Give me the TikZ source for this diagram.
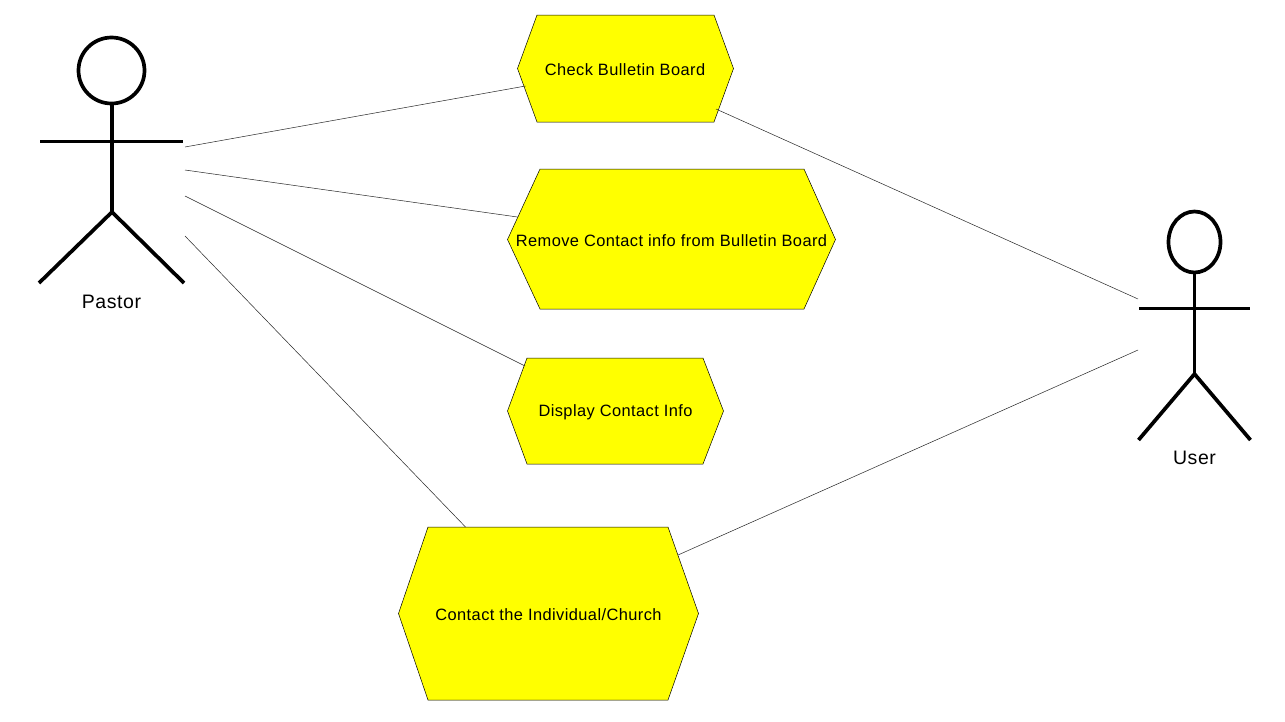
\documentclass[tikz,border=0pt]{standalone}
\usepackage{fontspec}
\setmainfont{Liberation Sans}
\newfontfamily\uclabel[LetterSpace=2.6]{Liberation Sans}
\newfontfamily\actlabel[LetterSpace=3]{Liberation Sans}
\definecolor{ucyellow}{RGB}{255,255,0}
\begin{document}
\begin{tikzpicture}[x=1pt,y=-1pt,
  usecase/.style={draw=black,line width=0.5pt,fill=ucyellow},
  stick/.style={draw=black,line width=3.7pt,line cap=butt},
  conn/.style={draw=black!85,line width=0.5pt},
  lbl/.style={font=\uclabel\fontsize{16.4pt}{19pt}\selectfont,inner sep=0pt,text=black},
  actorlbl/.style={font=\actlabel\fontsize{19.5pt}{22pt}\selectfont,inner sep=0pt,text=black}]
\useasboundingbox[fill=white] (0,0) rectangle (1285,721);
% use cases
\draw[usecase] (537,15) -- (714,15) -- (733.5,68.5) -- (714,122) -- (537,122) -- (517.5,68.5) -- cycle;
\draw[usecase] (540,169) -- (804,169) -- (835.5,239.5) -- (804,309) -- (540,309) -- (507.5,239.5) -- cycle;
\draw[usecase] (527,358) -- (703,358) -- (723.5,411) -- (703,464) -- (527,464) -- (507.5,411) -- cycle;
\draw[usecase] (428,527) -- (668,527) -- (698.5,613.5) -- (668,700) -- (428,700) -- (398.5,613.5) -- cycle;
\node[lbl] (uc1) at (625,69.5) {Check Bulletin Board};
\node[lbl] (uc2) at (671.5,241) {Remove Contact info from Bulletin Board};
\node[lbl] (uc3) at (615.5,412.5) {Display Contact Info};
\node[lbl] (uc4) at (548.5,614.5) {Contact the Individual/Church};
% actors
\draw[stick] (111.5,70.5) ellipse (33 and 33);
\draw[stick] (112,104) -- (112,212);
\draw[stick] (40,141.5) -- (183,141.5);
\draw[stick] (39,283) -- (112,212) -- (184,283);
\node[actorlbl] (pastor) at (111.5,302) {Pastor};
\draw[stick] (1194.5,242) ellipse (26 and 30.5);
\draw[stick] (1194.5,273) -- (1194.5,374);
\draw[stick] (1139,308.5) -- (1250,308.5);
\draw[stick] (1138.5,440) -- (1194.5,374) -- (1250.5,440);
\node[actorlbl] (user) at (1194.5,458) {User};
% connectors
\coordinate (p1) at (185,147); \coordinate (c1) at (525.5,86);
\coordinate (p2) at (185,170); \coordinate (c2) at (517.5,217);
\coordinate (p3) at (185,196); \coordinate (c3) at (525,366);
\coordinate (p4) at (185,236); \coordinate (c4) at (465.5,527);
\coordinate (u1) at (1138,299); \coordinate (d1) at (716,109);
\coordinate (u2) at (1138,350); \coordinate (d2) at (678,555);
\draw[conn] (p1) -- (c1);
\draw[conn] (p2) -- (c2);
\draw[conn] (p3) -- (c3);
\draw[conn] (p4) -- (c4);
\draw[conn] (u1) -- (d1);
\draw[conn] (u2) -- (d2);
\end{tikzpicture}
\end{document}
